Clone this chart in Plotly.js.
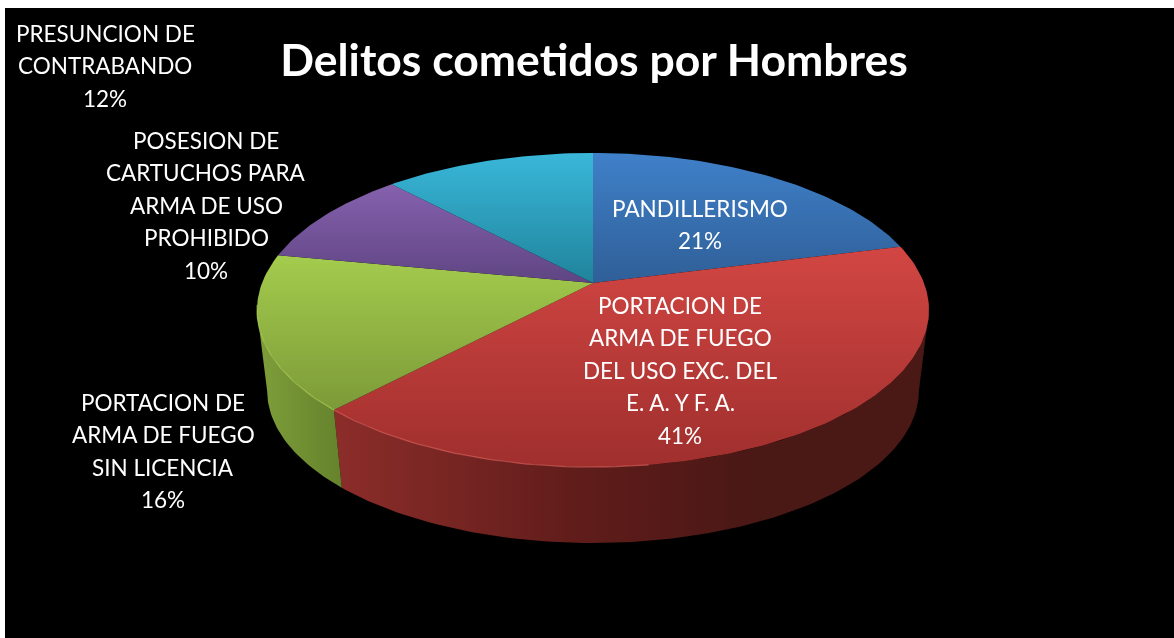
<!DOCTYPE html>
<html><head><meta charset="utf-8">
<script src="https://cdn.plot.ly/plotly-3.0.1.min.js"></script>
<style>html,body{margin:0;padding:0;background:#fff;overflow:hidden}#chart{width:1174px;height:638px;filter:blur(0.5px)}</style>
</head><body><div id="chart"></div>
<script>
// Data
const categories = ["PANDILLERISMO",
  "PORTACION DE<br>ARMA DE FUEGO<br>DEL USO EXC. DEL<br>E. A. Y F. A.",
  "PORTACION DE<br>ARMA DE FUEGO<br>SIN LICENCIA",
  "POSESION DE<br>CARTUCHOS PARA<br>ARMA DE USO<br>PROHIBIDO",
  "PRESUNCION DE<br>CONTRABANDO"];
const values = [21, 41, 16, 10, 12];
const chartTitle = "Delitos cometidos por Hombres";
// Styles (gradient lists run from the top edge of a slice to its bottom edge)
const topColors = [["#3F80C9","#2F5F97"],["#D24643","#9F2F2D"],["#A4CC4D","#7C9A38"],["#8661AE","#5F4583"],["#39B7D9","#20839C"]];
const wallScales = [null,[[0,"#8C2D2A"],[0.42,"#5F1C1A"],[0.7,"#4A1815"],[1,"#4A1815"]],[[0,"#7F9E3A"],[1,"#64832C"]],null,null];
const rimColors = ["#3F80C9","#D9605C","#AFD35A","#8661AE","#39B7D9"];
const labelCenters = [[700,208],[680,305],[163,402],[206,140],[105,33]];
const lineStep = 32.6, labelSize = 22.5, titleSize = 44.5, fontFamily = "Lato";
// Projection of the tilted disc
const cx=593, k=0.172, topG={a:331,b:152.4,cy:283}, botG={a:321,b:147.8,cy:364.5};
const frontFrom=100, frontTo=260; // part of the rim whose side wall faces the viewer
const rimFrom=172, rimTo=262;     // part of the rim that catches the highlight
const proj=(deg,g)=>{const t=deg*Math.PI/180,u=Math.sin(t),v=Math.cos(t),d=1+k*v;return [cx+g.a*u/d,g.cy-g.b*v/d];};
const arc=(a0,a1,g)=>{const n=Math.max(2,Math.ceil(Math.abs(a1-a0)/1.2)),p=[];for(let i=0;i<=n;i++)p.push(proj(a0+(a1-a0)*i/n,g));return p;};
const total=values.reduce((a,b)=>a+b,0);
let angle=0; const spans=values.map(v=>{const s=[angle,angle+v/total*360];angle=s[1];return s;});
const walls=[],tops=[],rims=[];
spans.forEach(([a0,a1],i)=>{
  const w0=Math.max(a0,frontFrom), w1=Math.min(a1,frontTo);
  if(w1>w0 && wallScales[i]){
    const w=arc(w0,w1,topG).concat(arc(w0,w1,botG).reverse()); w.push(w[0]);
    walls.push({x:w.map(p=>p[0]),y:w.map(p=>p[1]),mode:'lines',line:{width:0},fill:'toself',
      fillgradient:{type:'horizontal',colorscale:wallScales[i]},hoverinfo:'skip',showlegend:false});
  }
  const t=arc(a0,a1,topG), c=[cx,topG.cy], s=[c].concat(t,[c]);
  // the y axis runs downward, so the gradient list is applied in reverse
  tops.push({x:s.map(p=>p[0]),y:s.map(p=>p[1]),mode:'lines',line:{width:0},fill:'toself',
    fillgradient:{type:'vertical',colorscale:[[0,topColors[i][1]],[1,topColors[i][0]]]},name:categories[i].replace(/<br>/g,' '),hoverinfo:'name',showlegend:false});
  const r0=Math.max(a0,rimFrom), r1=Math.min(a1,rimTo);
  if(r1>r0){const r=arc(r0,r1,topG);
    rims.push({x:r.map(p=>p[0]),y:r.map(p=>p[1]),mode:'lines',line:{width:1.2,color:rimColors[i]},opacity:0.7,hoverinfo:'skip',showlegend:false});}
});
const annotations=[];
categories.forEach((c,i)=>{
  const lines=c.split('<br>').concat([values[i]+'%']);
  lines.forEach((l,j)=>annotations.push({text:l,xref:'x',yref:'y',x:labelCenters[i][0],y:labelCenters[i][1]+j*lineStep,
    xanchor:'center',yanchor:'middle',showarrow:false,font:{family:fontFamily,size:labelSize,color:'#fff'}}));
});
Plotly.newPlot('chart',walls.concat(tops,rims),{
  width:1174,height:638,margin:{l:5,r:0,t:8,b:0,pad:0},paper_bgcolor:'#fff',plot_bgcolor:'#000',
  title:{text:'<b>'+chartTitle+'</b>',x:594/1174,xanchor:'center',y:1-60/638,yanchor:'middle',font:{family:fontFamily,size:titleSize,color:'#fff'}},
  xaxis:{range:[5,1174],visible:false,fixedrange:true},
  yaxis:{range:[638,8],visible:false,fixedrange:true},
  annotations:annotations,showlegend:false
},{displayModeBar:false,responsive:false});
</script></body></html>
